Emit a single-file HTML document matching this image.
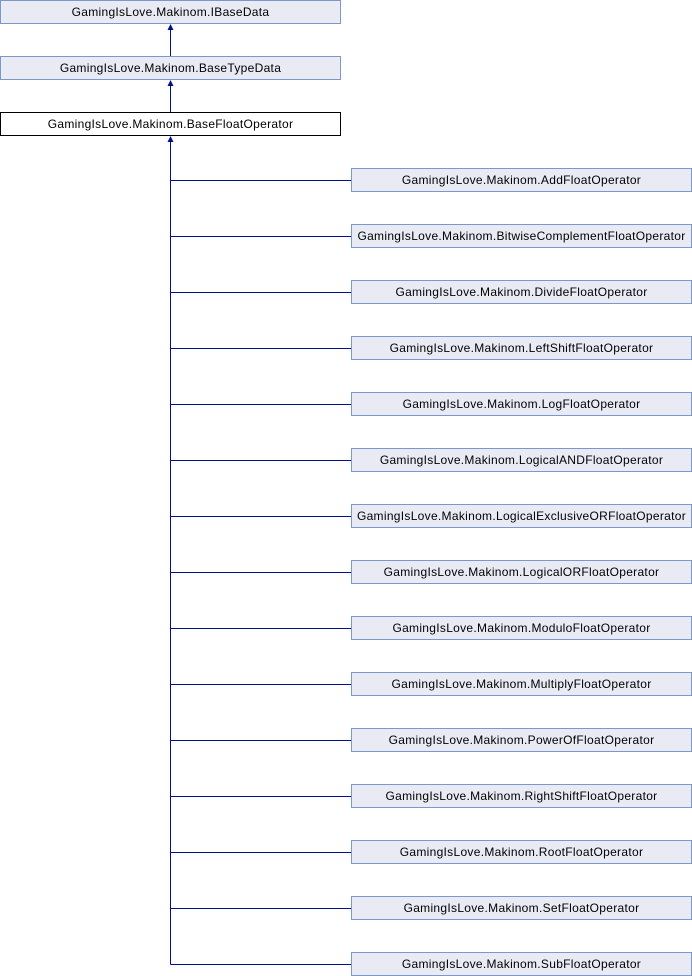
<!DOCTYPE html>
<html><head><meta charset="utf-8"><style>
html,body{margin:0;padding:0;background:#fff;width:692px;height:976px;overflow:hidden}
svg text{font-family:"Liberation Sans",Arial,sans-serif;font-size:12px;fill:#000;letter-spacing:0.3px}
</style></head><body>
<svg width="692" height="976" xmlns="http://www.w3.org/2000/svg">
<g stroke="#000d8c" stroke-width="1" fill="none">
<line x1="170.5" y1="29" x2="170.5" y2="56"/>
<line x1="170.5" y1="85" x2="170.5" y2="112"/>
<line x1="170.5" y1="141" x2="170.5" y2="964.5"/>
</g>
<g fill="#000d8c">
<polygon points="170.5,24 167.5,30 173.5,30"/>
<polygon points="170.5,80 167.5,86 173.5,86"/>
<polygon points="170.5,136 167.5,142 173.5,142"/>
</g>
<rect x="0.5" y="0.5" width="340" height="23" fill="#e8ebf4" stroke="#7f97c8"/>
<text x="170.5" y="16" text-anchor="middle">GamingIsLove.Makinom.IBaseData</text>
<rect x="0.5" y="56.5" width="340" height="23" fill="#e8ebf4" stroke="#7f97c8"/>
<text x="170.5" y="72" text-anchor="middle">GamingIsLove.Makinom.BaseTypeData</text>
<rect x="0.5" y="112.5" width="340" height="23" fill="#fff" stroke="#000"/>
<text x="170.5" y="128" text-anchor="middle">GamingIsLove.Makinom.BaseFloatOperator</text>
<g id="kids"></g>
</svg>
<script>
var names=["AddFloatOperator","BitwiseComplementFloatOperator","DivideFloatOperator","LeftShiftFloatOperator","LogFloatOperator","LogicalANDFloatOperator","LogicalExclusiveORFloatOperator","LogicalORFloatOperator","ModuloFloatOperator","MultiplyFloatOperator","PowerOfFloatOperator","RightShiftFloatOperator","RootFloatOperator","SetFloatOperator","SubFloatOperator"];
var g=document.getElementById("kids"),s="";
names.forEach(function(n,i){var y=168+56*i;
s+='<line x1="170.5" y1="'+(y+12.5)+'" x2="351" y2="'+(y+12.5)+'" stroke="#000d8c"/>';
s+='<rect x="351.5" y="'+(y+0.5)+'" width="340" height="23" fill="#e8ebf4" stroke="#7f97c8"/>';
s+='<text x="521.5" y="'+(y+16)+'" text-anchor="middle">GamingIsLove.Makinom.'+n+'</text>';});
g.innerHTML=s;
</script>
</body></html>
